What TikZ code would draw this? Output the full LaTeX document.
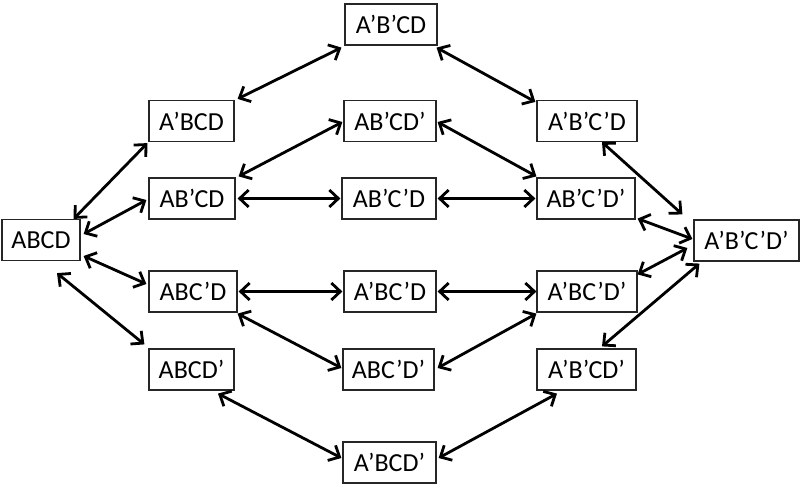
\documentclass[tikz,border=0pt]{standalone}
\usepackage{fontspec}
\setmainfont{Carlito}
\usetikzlibrary{arrows.meta,calc}
\begin{document}
\begin{tikzpicture}[x=1pt,y=-1pt,
  box/.style={draw=black!85, line width=1.2pt, minimum height=41pt, inner sep=0pt, font=\fontsize{26}{30}\selectfont},
  arr/.style={{Straight Barb[length=9pt,width=17pt]}-{Straight Barb[length=9pt,width=17pt]}, line width=2.8pt}]
\useasboundingbox (0,0) rectangle (800,486);
% nodes
\node[box, minimum width=78pt]  (abcd)   at (41,240)    {ABCD};
\node[box, minimum width=85pt]  (aPbcd)  at (191.5,121) {A’BCD};
\node[box, minimum width=86pt]  (abPcd)  at (192,198.5) {AB’CD};
\node[box, minimum width=88pt]  (abcPd)  at (193,291.5) {ABC’D};
\node[box, minimum width=85pt]  (abcdP)  at (191.5,369.5) {ABCD’};
\node[box, minimum width=92pt]  (aPbPcd) at (391,24.5)  {A’B’CD};
\node[box, minimum width=92pt]  (abPcdP) at (390,121)   {AB’CD’};
\node[box, minimum width=94pt]  (abPcPd) at (389,198.5) {AB’C’D};
\node[box, minimum width=92pt]  (aPbcPd) at (390,291.5) {A’BC’D};
\node[box, minimum width=91pt]  (abcPdP) at (388.5,369.5) {ABC’D’};
\node[box, minimum width=93pt]  (aPbcdP) at (389.5,462.5) {A’BCD’};
\node[box, minimum width=100pt] (aPbPcPd) at (587,121)  {A’B’C’D};
\node[box, minimum width=98pt]  (abPcPdP) at (586,198.5) {AB’C’D’};
\node[box, minimum width=100pt] (aPbcPdP) at (587,291.5) {A’BC’D’};
\node[box, minimum width=99pt]  (aPbPcdP) at (586.5,369.5) {A’B’CD’};
\node[box, minimum width=105pt] (all)    at (746.5,240.5) {A’B’C’D’};
% connectors
\draw[arr] ($(abcd.north east)+(-7,0)$) -- ($(aPbcd.south west)+(-1,1)$);
\draw[arr] ($(abcd.east)+(3,-6)$) -- ($(abPcd.west)+(-2,1.5)$);
\draw[arr] ($(abcd.east)+(3,16)$) -- ($(abcPd.west)+(-2,-7.5)$);
\draw[arr] ($(abcd.south)+(16,12)$) -- ($(abcdP.north west)+(-4,-4)$);
\draw[arr] ($(aPbcd.north east)+(3,-1)$) -- ($(aPbPcd.south west)+(-3,2)$);
\draw[arr] ($(aPbPcd.south east)+(-1,2)$) -- ($(aPbPcPd.north west)+(-1,2)$);
\draw[arr] ($(abPcd.north east)+(3,-1)$) -- ($(abPcdP.west)+(-1,1)$);
\draw[arr] ($(abPcd.east)+(2,0)$) -- ($(abPcPd.west)+(-1,0)$);
\draw[arr] ($(abPcPd.east)+(1,0)$) -- ($(abPcPdP.west)+(-1,0)$);
\draw[arr] ($(abPcdP.east)+(1,1)$) -- ($(abPcPdP.north west)+(0,-1)$);
\draw[arr] ($(aPbPcPd.south)+(15,0)$) -- ($(all.north west)+(-11,-5)$);
\draw[arr] ($(abPcPdP.south east)+(2,-1)$) -- ($(all.west)+(-1,-1.5)$);
\draw[arr] ($(aPbcPdP.north east)+(0,4)$) -- ($(all.west)+(-6,7.5)$);
\draw[arr] ($(aPbPcdP.north)+(15.5,-2)$) -- ($(all.south west)+(6,2)$);
\draw[arr] ($(abcPd.east)+(1,0)$) -- ($(aPbcPd.west)+(-1,0)$);
\draw[arr] ($(aPbcPd.east)+(1,0)$) -- ($(aPbcPdP.west)+(0,0)$);
\draw[arr] ($(abcPd.south east)+(0,1)$) -- ($(abcPdP.west)+(-1,-1.5)$);
\draw[arr] ($(abcPdP.east)+(3,-1.5)$) -- ($(aPbcPdP.south west)+(0,1)$);
\draw[arr] ($(abcdP.south)+(26.5,3)$) -- ($(aPbcdP.west)+(-1,-4.5)$);
\draw[arr] ($(aPbcdP.east)+(2,-4.5)$) -- ($(aPbPcdP.south)+(-29.5,3)$);
\end{tikzpicture}
\end{document}
